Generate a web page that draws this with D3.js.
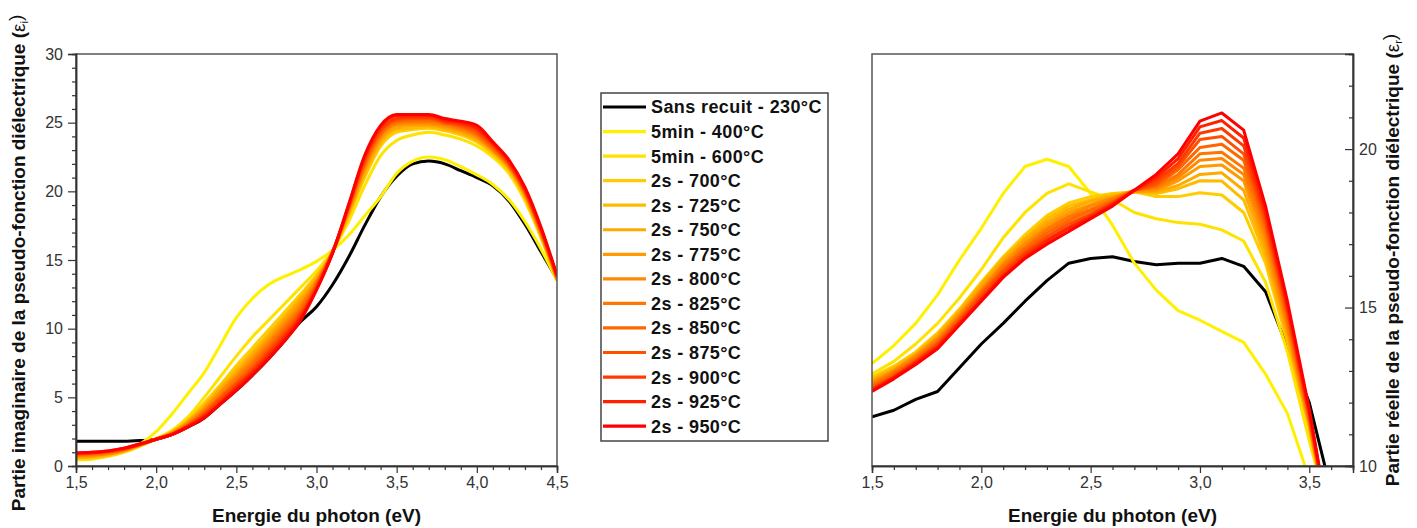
<!DOCTYPE html>
<html>
<head>
<meta charset="utf-8">
<script src="https://cdn.jsdelivr.net/npm/d3@7/dist/d3.min.js"></script>
<style>
  html, body { margin: 0; padding: 0; background: #fff; }
  svg { display: block; }
  text { font-family: "Liberation Sans", Arial, sans-serif; }
</style>
</head>
<body>
<svg id="chart" width="1417" height="528"></svg>
<script>
// ---------------- DATA ----------------
const energyImag = [1.5,1.6,1.7,1.8,1.9,2.0,2.1,2.2,2.3,2.4,2.5,2.6,2.7,2.8,2.9,3.0,3.1,3.2,3.3,3.4,3.5,3.6,3.7,3.8,3.9,4.0,4.1,4.2,4.3,4.4,4.5];
const energyReal = [1.5,1.6,1.7,1.8,1.9,2.0,2.1,2.2,2.3,2.4,2.5,2.6,2.7,2.8,2.9,3.0,3.1,3.2,3.3,3.4,3.5,3.6];

const seriesLabels = ["Sans recuit - 230°C","5min - 400°C","5min - 600°C","2s - 700°C","2s - 725°C","2s - 750°C","2s - 775°C","2s - 800°C","2s - 825°C","2s - 850°C","2s - 875°C","2s - 900°C","2s - 925°C","2s - 950°C"];

// Imaginary part (eps_i), left chart
const imag230 = [1.8,1.8,1.8,1.8,1.85,1.95,2.3,2.85,3.5,4.5,5.5,6.6,7.8,9.1,10.5,11.6,13.2,15.2,17.5,19.6,21.1,22.0,22.2,22.0,21.5,21.0,20.4,19.3,17.6,15.6,13.6];
const imag400 = [0.55,0.6,0.8,1.1,1.6,2.5,3.8,5.3,6.8,8.8,10.8,12.2,13.2,13.8,14.3,14.9,15.7,16.8,18.2,19.6,21.3,22.2,22.5,22.3,21.8,21.2,20.5,19.4,17.8,15.8,13.5];
const imag600 = [0.45,0.5,0.7,1.0,1.45,2.0,2.6,3.6,5.0,6.5,8.0,9.4,10.6,11.8,13.0,14.2,15.7,17.8,20.4,22.6,23.7,24.1,24.3,24.1,23.8,23.3,22.5,21.3,19.3,16.6,13.5];
const imag700 = [0.55,0.6,0.75,1.05,1.5,1.95,2.5,3.4,4.6,5.9,7.3,8.6,9.9,11.2,12.5,13.9,15.6,18.2,21.0,23.3,24.3,24.5,24.6,24.4,24.1,23.6,22.7,21.5,19.5,16.7,13.5];
const imag725 = [0.6,0.65,0.8,1.1,1.5,1.95,2.45,3.3,4.4,5.7,7.0,8.3,9.6,10.9,12.3,13.8,15.6,18.3,21.2,23.5,24.5,24.6,24.7,24.5,24.2,23.7,22.8,21.6,19.6,16.8,13.6];
const imag750 = [0.65,0.7,0.85,1.1,1.5,1.95,2.45,3.25,4.3,5.6,6.8,8.1,9.4,10.7,12.1,13.6,15.6,18.4,21.4,23.7,24.6,24.8,24.8,24.6,24.3,23.8,22.9,21.7,19.7,16.8,13.6];
const imag775 = [0.7,0.75,0.9,1.15,1.55,1.95,2.4,3.2,4.2,5.4,6.6,7.9,9.2,10.5,11.9,13.5,15.6,18.5,21.6,23.8,24.8,24.9,24.9,24.7,24.4,23.9,23.0,21.8,19.8,16.9,13.6];
const imag800 = [0.75,0.8,0.9,1.15,1.55,1.95,2.4,3.1,4.1,5.3,6.5,7.7,9.0,10.3,11.7,13.4,15.6,18.6,21.7,24.0,24.9,25.0,25.0,24.8,24.5,24.0,23.0,21.8,19.8,17.0,13.7];
const imag825 = [0.8,0.85,0.95,1.2,1.55,1.95,2.35,3.05,4.0,5.1,6.3,7.5,8.8,10.1,11.5,13.3,15.6,18.7,21.9,24.1,25.0,25.1,25.1,24.9,24.6,24.1,23.1,21.9,19.9,17.0,13.7];
const imag850 = [0.85,0.9,1.0,1.2,1.55,1.95,2.35,3.0,3.9,5.0,6.1,7.3,8.6,9.9,11.3,13.2,15.6,18.8,22.0,24.2,25.1,25.2,25.2,25.0,24.7,24.2,23.2,22.0,20.0,17.1,13.7];
const imag875 = [0.9,0.95,1.05,1.25,1.6,1.95,2.3,2.95,3.8,4.9,6.0,7.1,8.4,9.7,11.1,13.1,15.6,18.8,22.2,24.4,25.2,25.3,25.3,25.0,24.8,24.3,23.3,22.0,20.0,17.2,13.8];
const imag900 = [0.9,0.95,1.05,1.25,1.6,1.95,2.3,2.9,3.7,4.7,5.8,6.9,8.2,9.5,10.9,13.0,15.5,18.9,22.3,24.5,25.3,25.4,25.4,25.1,24.9,24.5,23.4,22.1,20.1,17.2,13.8];
const imag925 = [0.95,1.0,1.1,1.3,1.6,1.95,2.3,2.9,3.6,4.6,5.7,6.8,8.0,9.3,10.8,12.9,15.5,19.0,22.5,24.7,25.5,25.5,25.5,25.2,25.0,24.6,23.5,22.2,20.2,17.3,13.8];
const imag950 = [0.95,1.0,1.1,1.3,1.6,1.95,2.3,2.85,3.5,4.5,5.5,6.6,7.8,9.1,10.6,12.8,15.5,19.0,22.6,24.8,25.6,25.6,25.6,25.3,25.1,24.8,23.6,22.3,20.3,17.4,13.9];

// Real part (eps_r), right chart
const real230 = [11.55,11.76,12.1,12.35,13.1,13.85,14.5,15.2,15.85,16.4,16.55,16.6,16.45,16.35,16.4,16.4,16.55,16.3,15.5,13.75,12.0,9.2];
const real400 = [13.23,13.8,14.5,15.4,16.5,17.5,18.6,19.45,19.68,19.45,18.6,17.6,16.4,15.55,14.9,14.6,14.25,13.9,12.9,11.66,9.6,7.5];
const real600 = [12.9,13.3,13.85,14.5,15.3,16.2,17.2,18.0,18.6,18.9,18.65,18.4,18.0,17.8,17.68,17.63,17.45,17.1,15.8,13.6,10.8,8.2];
const real700 = [12.8,13.15,13.6,14.2,14.95,15.8,16.6,17.3,17.9,18.3,18.5,18.6,18.65,18.5,18.5,18.62,18.55,18.0,16.4,13.9,11.2,7.8];
const real725 = [12.75,13.1,13.55,14.15,14.9,15.75,16.55,17.2,17.8,18.2,18.4,18.55,18.65,18.6,18.75,19.0,18.99,18.4,16.6,14.0,11.25,7.8];
const real750 = [12.7,13.05,13.5,14.1,14.85,15.7,16.5,17.15,17.7,18.1,18.35,18.5,18.65,18.65,18.85,19.2,19.25,18.7,16.8,14.15,11.3,7.8];
const real775 = [12.65,13.0,13.5,14.05,14.8,15.6,16.4,17.05,17.6,18.0,18.25,18.45,18.65,18.7,19.0,19.45,19.5,19.0,17.0,14.3,11.35,7.8];
const real800 = [12.6,13.0,13.45,14.0,14.75,15.55,16.35,17.0,17.5,17.9,18.2,18.45,18.7,18.75,19.1,19.65,19.7,19.2,17.2,14.4,11.4,7.8];
const real825 = [12.55,12.95,13.4,13.95,14.7,15.5,16.3,16.9,17.45,17.85,18.1,18.4,18.7,18.8,19.2,19.85,19.9,19.4,17.4,14.55,11.45,7.8];
const real850 = [12.5,12.9,13.35,13.9,14.65,15.45,16.2,16.85,17.35,17.75,18.05,18.35,18.7,18.85,19.35,20.05,20.15,19.65,17.55,14.7,11.5,7.8];
const real875 = [12.45,12.85,13.3,13.85,14.6,15.4,16.15,16.75,17.25,17.65,17.95,18.3,18.7,18.9,19.45,20.3,20.4,19.85,17.7,14.8,11.6,7.8];
const real900 = [12.4,12.8,13.3,13.8,14.55,15.3,16.05,16.7,17.15,17.55,17.9,18.3,18.7,19.0,19.55,20.5,20.65,20.1,17.85,14.95,11.65,7.8];
const real925 = [12.4,12.8,13.25,13.75,14.5,15.25,16.0,16.6,17.1,17.5,17.85,18.25,18.7,19.1,19.7,20.7,20.9,20.35,18.0,15.05,11.7,7.8];
const real950 = [12.35,12.75,13.2,13.7,14.45,15.2,15.95,16.55,17.0,17.4,17.8,18.2,18.7,19.2,19.85,20.88,21.14,20.6,18.2,15.2,11.8,7.8];

const imagXTicks = [1.5,2.0,2.5,3.0,3.5,4.0,4.5];
const imagYTicks = [0,5,10,15,20,25,30];
const realXTicks = [1.5,2.0,2.5,3.0,3.5];
const realYTicks = [10,15,20];

// ---------------- STYLE ----------------
const seriesColors = ["#000000","#FFF000","#FFE200","#FFCC00","#FFBB00","#FFAA00","#FF9A00","#FF8800","#FF7700","#FF6600","#FF5000","#FF3A00","#FF2000","#FF0000"];
const imagSeries = [imag230,imag400,imag600,imag700,imag725,imag750,imag775,imag800,imag825,imag850,imag875,imag900,imag925,imag950];
const realSeries = [real230,real400,real600,real700,real725,real750,real775,real800,real825,real850,real875,real900,real925,real950];

const svg = d3.select("#chart");
const fmt = d => d3.format(".1f")(d).replace(".", ",");
const axisColor = "#333";
const tickFont = 16;

const L = {left: 76, right: 557, top: 54, bottom: 466};
const xL = d3.scaleLinear().domain([1.5, 4.5]).range([L.left, L.right]);
const yL = d3.scaleLinear().domain([0, 30]).range([L.bottom, L.top]);

const R = {left: 872, right: 1353, top: 54, bottom: 466};
const xR = d3.scaleLinear().domain([1.5, 3.7]).range([R.left, R.right]);
const yR = d3.scaleLinear().domain([10, 23]).range([R.bottom, R.top]);

const defs = svg.append("defs");
defs.append("clipPath").attr("id","clipL").append("rect")
  .attr("x", L.left).attr("y", L.top).attr("width", L.right - L.left).attr("height", L.bottom - L.top);
defs.append("clipPath").attr("id","clipR").append("rect")
  .attr("x", R.left).attr("y", R.top).attr("width", R.right - R.left).attr("height", R.bottom - R.top);

function styleAxis(g) {
  g.selectAll("path.domain").attr("stroke", axisColor).attr("stroke-width", 1.5);
  g.selectAll(".tick line").attr("stroke", axisColor).attr("stroke-width", 1.2);
  g.selectAll(".tick text").attr("fill", "#333").style("font-size", tickFont + "px")
    .style("font-family", '"Liberation Sans", Arial, sans-serif');
}

// curves left
const lineL = d3.line().x((d,i) => xL(energyImag[i])).y(d => yL(d)).curve(d3.curveMonotoneX);
const gCurvesL = svg.append("g").attr("clip-path","url(#clipL)");
imagSeries.forEach((s, k) => {
  gCurvesL.append("path").attr("d", lineL(s)).attr("fill","none")
    .attr("stroke", seriesColors[k]).attr("stroke-width", 3).attr("stroke-linejoin","round");
});

// curves right
const lineR = d3.line().x((d,i) => xR(energyReal[i])).y(d => yR(d)).curve(d3.curveLinear);
const gCurvesR = svg.append("g").attr("clip-path","url(#clipR)");
realSeries.forEach((s, k) => {
  gCurvesR.append("path").attr("d", lineR(s)).attr("fill","none")
    .attr("stroke", seriesColors[k]).attr("stroke-width", 3).attr("stroke-linejoin","round");
});

// box lines
function box(P) {
  svg.append("path").attr("d", `M${P.left},${P.top}H${P.right}V${P.bottom}H${P.left}Z`)
    .attr("fill","none").attr("stroke","#555").attr("stroke-width",1.5);
}
box(L); box(R);

// left axes
const minorXL = d3.range(15, 46).map(d => d/10).filter(d => !imagXTicks.some(t => Math.abs(t-d) < 1e-6));
const minorYL = d3.range(0, 31).filter(d => !imagYTicks.includes(d));
svg.append("g").attr("transform", `translate(0,${L.bottom})`)
  .call(d3.axisBottom(xL).tickValues(minorXL).tickSize(4).tickFormat(""))
  .call(styleAxis);
svg.append("g").attr("transform", `translate(0,${L.bottom})`)
  .call(d3.axisBottom(xL).tickValues(imagXTicks).tickSize(7).tickPadding(4).tickFormat(fmt))
  .call(styleAxis);
svg.append("g").attr("transform", `translate(${L.left},0)`)
  .call(d3.axisLeft(yL).tickValues(minorYL).tickSize(4).tickFormat(""))
  .call(styleAxis);
svg.append("g").attr("transform", `translate(${L.left},0)`)
  .call(d3.axisLeft(yL).tickValues(imagYTicks).tickSize(8).tickPadding(5).tickFormat(d3.format("d")))
  .call(styleAxis);

// right axes
const minorXR = d3.range(15, 38).map(d => d/10).filter(d => !realXTicks.some(t => Math.abs(t-d) < 1e-6));
const minorYR = d3.range(10, 24).filter(d => !realYTicks.includes(d));
svg.append("g").attr("transform", `translate(0,${R.bottom})`)
  .call(d3.axisBottom(xR).tickValues(minorXR).tickSize(4).tickFormat(""))
  .call(styleAxis);
svg.append("g").attr("transform", `translate(0,${R.bottom})`)
  .call(d3.axisBottom(xR).tickValues(realXTicks).tickSize(7).tickPadding(4).tickFormat(fmt))
  .call(styleAxis);
svg.append("g").attr("transform", `translate(${R.right},0)`)
  .call(d3.axisRight(yR).tickValues(minorYR).tickSize(-4).tickFormat(""))
  .call(styleAxis);
svg.append("g").attr("transform", `translate(${R.right},0)`)
  .call(d3.axisRight(yR).tickValues(realYTicks).tickSize(-8).tickPadding(6).tickFormat(d3.format("d")))
  .call(styleAxis);

// axis titles
const titleFont = 19;
function xTitle(cx) {
  svg.append("text").attr("x", cx).attr("y", 522).attr("text-anchor","middle")
    .style("font-size", titleFont + "px").style("font-weight","bold").attr("fill","#111")
    .text("Energie du photon (eV)");
}
xTitle((L.left + L.right)/2);
xTitle((R.left + R.right)/2);

function yTitle(cx, cy, main, sub) {
  const t = svg.append("text").attr("transform", `translate(${cx},${cy}) rotate(-90)`)
    .attr("text-anchor","middle").attr("dy","0.35em")
    .style("font-size", titleFont + "px").style("font-weight","bold").attr("fill","#111");
  t.append("tspan").text(main);
  t.append("tspan").style("font-weight","normal").text("ε");
  t.append("tspan").attr("dy","0.3em").style("font-size","11px").style("font-weight","normal").text(sub);
  t.append("tspan").attr("dy","-0.3em").style("font-weight","normal").text(")");
}
yTitle(18, 263, "Partie imaginaire de la pseudo-fonction diélectrique (", "i");
yTitle(1392, 260, "Partie réelle de la pseudo-fonction diélectrique (", "r");

// legend
const leg = {x: 601, y: 93, w: 227, h: 348, row0: 107, step: 24.55};
svg.append("rect").attr("x", leg.x).attr("y", leg.y).attr("width", leg.w).attr("height", leg.h)
  .attr("fill","#fff").attr("stroke","#444").attr("stroke-width",1.5);
seriesLabels.forEach((lab, k) => {
  const yy = leg.row0 + k * leg.step;
  svg.append("line").attr("x1", 603).attr("x2", 646).attr("y1", yy).attr("y2", yy)
    .attr("stroke", seriesColors[k]).attr("stroke-width", 3.2);
  svg.append("text").attr("x", 651).attr("y", yy).attr("dy","0.36em")
    .style("font-size","18px").style("font-weight","bold").style("letter-spacing","0.4px")
    .attr("fill","#111").text(lab);
});
</script>
</body>
</html>
